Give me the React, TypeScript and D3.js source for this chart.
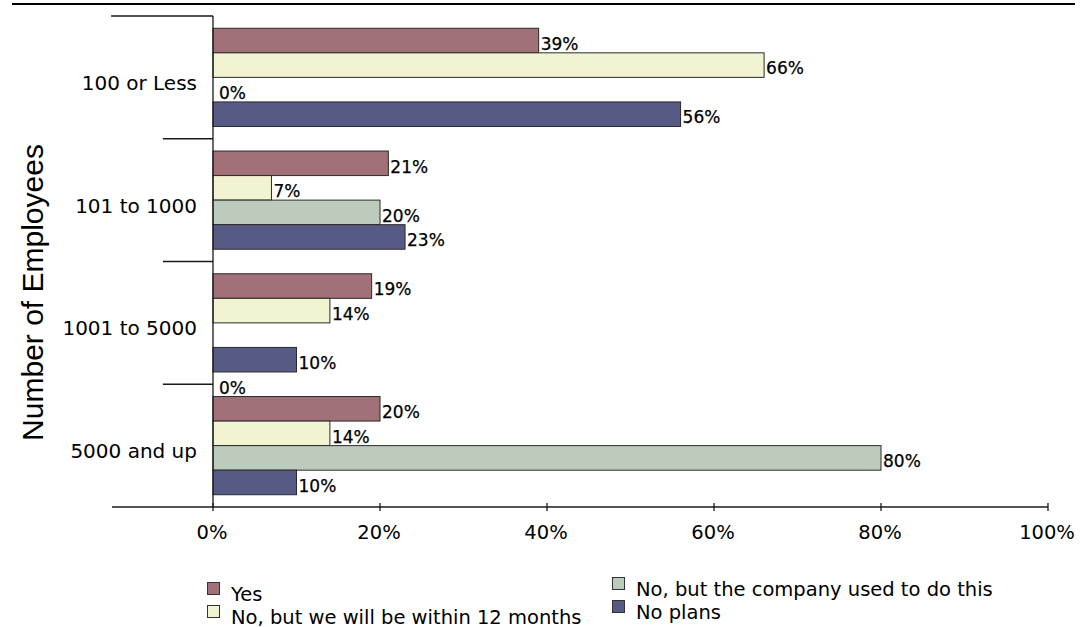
import * as d3 from "d3";
import { useEffect, useRef } from "react";

const categories = ["100 or Less", "101 to 1000", "1001 to 5000", "5000 and up"];
const seriesNames = [
  "Yes",
  "No, but we will be within 12 months",
  "No, but the company used to do this",
  "No plans",
];
const yesValues = [39, 21, 19, 20];
const withinValues = [66, 7, 14, 14];
const usedToValues = [0, 20, 0, 80];
const noPlansValues = [56, 23, 10, 10];
// which bars show, and an odd downward label shift the source chart had
const usedToBarShown = [true, true, false, true];
const usedToLabelShift = [0, 0, 2, 0];
const tickValues = [0, 20, 40, 60, 80, 100];
const colors = ["#a17078", "#f2f3d0", "#bccbbc", "#585a86"];

const W = 1080;
const H = 627;

export default function App() {
  const svgRef = useRef(null);

  useEffect(() => {
    if (!svgRef.current) return;
    const svg = d3.select(svgRef.current);
    svg.selectAll("*").remove();

    const verdana = "Verdana, 'DejaVu Sans', sans-serif";
    const x = d3.scaleLinear().domain([0, 100]).range([213, 1048]);
    const y0 = d3.scaleBand().domain(categories).range([16, 507]);
    const y1 = d3
      .scaleBand()
      .domain(seriesNames)
      .range([0, y0.bandwidth()])
      .paddingOuter(0.5);

    const series = [yesValues, withinValues, usedToValues, noPlansValues];

    // top rule
    svg
      .append("line")
      .attr("x1", 12)
      .attr("x2", 1075)
      .attr("y1", 4)
      .attr("y2", 4)
      .attr("stroke", "#000")
      .attr("stroke-width", 2.2);

    // bars
    categories.forEach((cat, ci) => {
      const g = svg.append("g").attr("transform", `translate(0,${y0(cat)})`);
      series.forEach((vals, si) => {
        const name = seriesNames[si];
        const v = vals[ci];
        const by = y1(name)!;
        const show = si !== 2 || usedToBarShown[ci];
        if (show && v > 0) {
          g.append("rect")
            .attr("x", x(0))
            .attr("y", by)
            .attr("width", x(v) - x(0))
            .attr("height", y1.bandwidth())
            .attr("fill", colors[si])
            .attr("stroke", "#2a2a2a")
            .attr("stroke-width", 1);
        }
        const shift = si === 2 ? usedToLabelShift[ci] * y1.step() : 0;
        g.append("text")
          .attr("x", x(v) + (v === 0 ? 6 : 2))
          .attr("y", by + y1.bandwidth() - 3 + shift)
          .attr("font-family", verdana)
          .attr("font-size", 17)
          .attr("fill", "#000")
          .attr("stroke", "#000")
          .attr("stroke-width", 0.25)
          .text(`${v}%`);
      });
    });

    const axisColor = "#1a1a1a";

    // category axis
    svg
      .append("line")
      .attr("x1", x(0))
      .attr("x2", x(0))
      .attr("y1", y0.range()[0])
      .attr("y2", y0.range()[1])
      .attr("stroke", axisColor)
      .attr("stroke-width", 1.3);

    categories.forEach((cat, ci) => {
      const top = y0(cat)!;
      svg
        .append("line")
        .attr("x1", ci === 0 ? x(-12.2) : x(-6))
        .attr("x2", x(0))
        .attr("y1", top)
        .attr("y2", top)
        .attr("stroke", axisColor)
        .attr("stroke-width", 1.3);
      svg
        .append("text")
        .attr("x", 197)
        .attr("y", top + y0.bandwidth() / 2 + 12.5)
        .attr("text-anchor", "end")
        .attr("font-family", verdana)
        .attr("font-size", 20)
        .attr("fill", "#000")
        .text(cat);
    });

    // value axis
    const yAxis = y0.range()[1];
    svg
      .append("line")
      .attr("x1", x(-12.1))
      .attr("x2", x(100))
      .attr("y1", yAxis)
      .attr("y2", yAxis)
      .attr("stroke", axisColor)
      .attr("stroke-width", 1.3);
    tickValues.forEach((t) => {
      svg
        .append("line")
        .attr("x1", x(t))
        .attr("x2", x(t))
        .attr("y1", yAxis - 4)
        .attr("y2", yAxis + 4)
        .attr("stroke", axisColor)
        .attr("stroke-width", 1.3);
      svg
        .append("text")
        .attr("x", x(t) - 1)
        .attr("y", 538.5)
        .attr("text-anchor", "middle")
        .attr("font-family", verdana)
        .attr("font-size", 19.5)
        .attr("fill", "#000")
        .text(`${t}%`);
    });

    // y title
    svg
      .append("text")
      .attr("transform", `translate(43,${(y0.range()[0] + y0.range()[1]) / 2 + 31}) rotate(-90)`)
      .attr("text-anchor", "middle")
      .attr("font-family", "Arial, 'Liberation Sans', sans-serif")
      .attr("font-size", 30)
      .attr("fill", "#000")
      .text("Number of Employees");

    // legend
    const legendPos = [
      [207, 582],
      [207, 605],
      [612, 577],
      [612, 600],
    ];
    seriesNames.forEach((name, i) => {
      const [lx, ly] = legendPos[i];
      svg
        .append("rect")
        .attr("x", lx + 0.5)
        .attr("y", ly + 0.5)
        .attr("width", 12)
        .attr("height", 12)
        .attr("fill", colors[i])
        .attr("stroke", "#333")
        .attr("stroke-width", 1);
      svg
        .append("text")
        .attr("x", lx + 24)
        .attr("y", ly + 18.5)
        .attr("font-family", verdana)
        .attr("font-size", 19.5)
        .attr("fill", "#000")
        .text(name);
    });
  }, []);

  return (
    <svg
      ref={svgRef}
      width={W}
      height={H}
      viewBox={`0 0 ${W} ${H}`}
      style={{ position: "absolute", left: 0, top: 0, background: "#fff", display: "block" }}
    />
  );
}
